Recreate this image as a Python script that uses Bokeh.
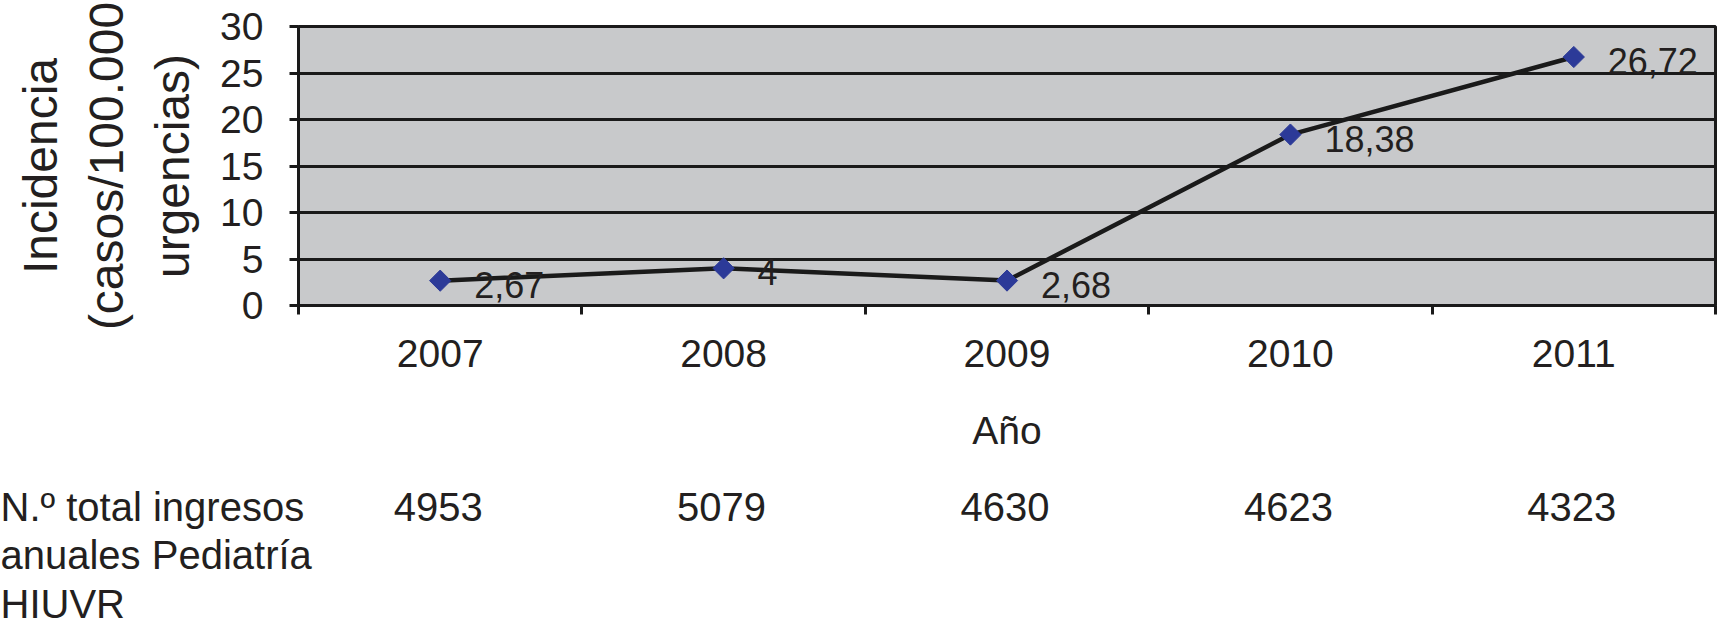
import math
from bokeh.plotting import figure
from bokeh.models import Range1d, FixedTicker, LabelSet, ColumnDataSource
from bokeh.core.properties import value
from bokeh.embed import file_html
from bokeh.resources import INLINE

# ---- data ----
years = ["2007", "2008", "2009", "2010", "2011"]
incidencia = [2.67, 4.0, 2.68, 18.38, 26.72]
incidencia_labels = ["2,67", "4", "2,68", "18,38", "26,72"]
ingresos = [4953, 5079, 4630, 4623, 4323]
y_ticks = [0, 5, 10, 15, 20, 25, 30]
y_title_lines = ["Incidencia", "(casos/100.000", "urgencias)"]
row_title_lines = ["N.º total ingresos", "anuales Pediatría", "HIUVR"]
x_title = "Año"

# ---- style ----
FONT = "Liberation Sans"
TXT = "#231F20"
DARK = "#1a1a1a"
W = 1718
H1, H2 = 465, 159
LEFT, RIGHT, TOP = 298, 3, 26
FRAME_BOTTOM = 305

p = figure(width=W, height=H1, x_range=Range1d(0, len(years)), y_range=Range1d(0, 30),
           output_backend="svg", toolbar_location=None,
           min_border_left=LEFT, min_border_right=RIGHT,
           min_border_top=TOP, min_border_bottom=H1 - FRAME_BOTTOM)

p.background_fill_color = "#C8C9CB"
p.border_fill_color = "white"
p.outline_line_color = DARK
p.outline_line_width = 3

# grid
p.xgrid.visible = False
p.ygrid.ticker = FixedTicker(ticks=y_ticks)
p.ygrid.grid_line_color = DARK
p.ygrid.grid_line_width = 3

# y axis
ya = p.yaxis[0]
ya.ticker = FixedTicker(ticks=y_ticks)
ya.axis_line_color = DARK
ya.axis_line_width = 3
ya.major_tick_line_color = DARK
ya.major_tick_line_width = 3
ya.major_tick_out = 9
ya.major_tick_in = 0
ya.minor_tick_line_color = None
ya.major_label_text_font = FONT
ya.major_label_text_font_size = "39px"
ya.major_label_text_color = TXT
ya.major_label_standoff = 26
ya.axis_label = "\n".join(y_title_lines)
ya.axis_label_text_font = FONT
ya.axis_label_text_font_size = "48px"
ya.axis_label_text_font_style = "normal"
ya.axis_label_text_color = TXT
ya.axis_label_text_line_height = 1.25
ya.axis_label_standoff = 18

# x axis
xs = [i + 0.5 for i in range(len(years))]
xa = p.xaxis[0]
xa.ticker = FixedTicker(ticks=xs, minor_ticks=list(range(len(years) + 1)))
xa.major_label_overrides = {x: lab for x, lab in zip(xs, years)}
xa.axis_line_color = DARK
xa.axis_line_width = 3
xa.major_tick_line_color = None
xa.major_tick_out = 0
xa.major_tick_in = 0
xa.minor_tick_line_color = DARK
xa.minor_tick_line_width = 3
xa.minor_tick_out = 9
xa.minor_tick_in = 0
xa.major_label_text_font = FONT
xa.major_label_text_font_size = "39px"
xa.major_label_text_color = TXT
xa.major_label_standoff = 25
xa.axis_label = x_title
xa.axis_label_text_font = FONT
xa.axis_label_text_font_size = "39px"
xa.axis_label_text_font_style = "normal"
xa.axis_label_text_color = TXT
xa.axis_label_standoff = 39

# series
src = ColumnDataSource(dict(x=xs, y=incidencia, label=incidencia_labels))
p.line("x", "y", source=src, line_color=DARK, line_width=4.5)
p.scatter("x", "y", source=src, marker="square", angle=math.pi / 4, size=15,
          fill_color="#2C3A98", line_color="#2C3A98")

p.add_layout(LabelSet(x="x", y="y", text="label", source=src, x_offset=34, y_offset=-4,
                      text_align="left", text_baseline="middle",
                      text_font=value(FONT), text_font_size="36px", text_color=TXT))

# ---- bottom table (same horizontal scale as the chart's frame) ----
px_per_cat = (W - LEFT - RIGHT) / len(years)
row_px = 48.5
first_row_px = 41
t_xr = Range1d(0 - (LEFT - 2) / px_per_cat, len(years) + RIGHT / px_per_cat + 2 / px_per_cat)
t_yr = Range1d(start=(H2 - first_row_px) / row_px, end=-first_row_px / row_px)

t = figure(width=W, height=H2, x_range=t_xr, y_range=t_yr,
           output_backend="svg", toolbar_location=None,
           min_border_left=0, min_border_right=0, min_border_top=0, min_border_bottom=0)
t.axis.visible = False
t.grid.visible = False
t.outline_line_color = None
t.background_fill_color = "white"
t.border_fill_color = "white"

rows = list(range(len(row_title_lines)))
t.text(x=[t_xr.start] * len(rows), y=rows, text=row_title_lines,
       text_align="left", text_baseline="middle",
       text_font=value(FONT), text_font_size="40px", text_color=TXT)
t.text(x=xs, y=[rows[0]] * len(xs), text=[str(v) for v in ingresos],
       text_align="center", text_baseline="middle",
       text_font=value(FONT), text_font_size="40px", text_color=TXT)

open("out.html", "w").write(file_html([p, t], INLINE))
